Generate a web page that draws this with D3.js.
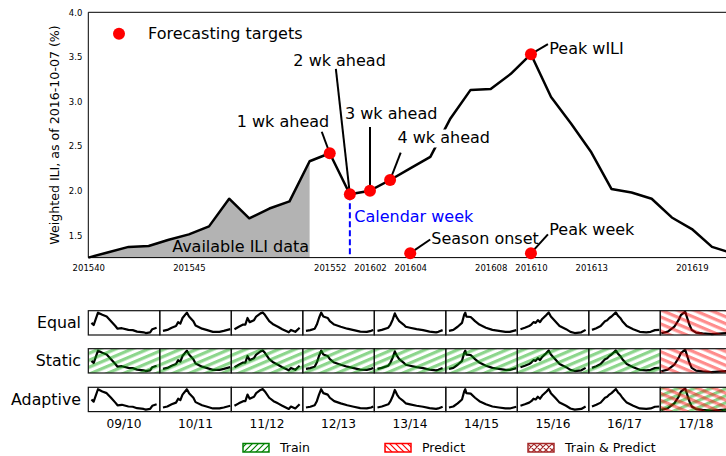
<!DOCTYPE html>
<html><head><meta charset="utf-8">
<script src="https://cdn.jsdelivr.net/npm/d3@7"></script>
<style>body{margin:0;background:#fff}svg{display:block;font-family:"DejaVu Sans",sans-serif}</style>
</head><body><svg id="c" width="726" height="456"></svg>
<script>
// ---------- data: top panel ----------
const wili = [1.25,1.31,1.37,1.38,1.45,1.51,1.60,1.91,1.69,1.80,1.88,2.33,2.42,1.96,2.00,2.12,2.25,2.38,2.81,3.13,3.14,3.31,3.53,3.05,2.75,2.43,2.02,1.98,1.91,1.70,1.57,1.37,1.30];
const tickWeeks = [0,5,12,14,16,20,22,25,30];
const tickLabels = ["201540","201545","201552","201602","201604","201608","201610","201613","201619"];
const yTicks = [1.5,2.0,2.5,3.0,3.5,4.0];
const availableEnd = 11;
const calendarWeek = 13;
const targetLabels = ["1 wk ahead","2 wk ahead","3 wk ahead","4 wk ahead","Peak wILI","Season onset","Peak week"];
const targetWeeks  = [12,13,14,15,22,16,22];
const targetValues = [2.42,1.96,2.00,2.12,3.53,1.30,1.30];

// ---------- data: bottom panel ----------
const seasons = ["09/10","10/11","11/12","12/13","13/14","14/15","15/16","16/17","17/18"];
const rowNames = ["Equal","Static","Adaptive"];
const s0910 = [[1,.50],[2,.41],[4,.92],[6,.83],[8,.76],[10,.57],[12,.37],[13,.26],[15,.28],[18,.21],[20,.20],[22,.14],[25,.11],[26,.08],[28,.11],[29,.24],[31,.30]];
const s1011 = [[1,.17],[3,.21],[5,.30],[7,.37],[8,.53],[9,.47],[10,.70],[12,.92],[13,.76],[15,.57],[16,.39],[19,.26],[21,.21],[24,.13],[27,.13],[29,.17],[32,.24]];
const s1112 = [[1,.24],[3,.34],[5,.43],[6,.43],[7,.70],[8,.53],[10,.61],[11,.76],[13,.89],[14,.93],[15,.83],[17,.57],[19,.43],[21,.34],[23,.24],[26,.11],[27,.21],[29,.13],[31,.30]];
const s1213 = [[1,.17],[3,.20],[5,.26],[6,.43],[7,.70],[8,.92],[9,.76],[11,.70],[12,.57],[14,.43],[17,.34],[20,.26],[23,.20],[26,.14],[29,.13],[31,.17],[32,.21]];
const s1314 = [[1,.17],[3,.21],[6,.30],[7,.43],[8,.63],[9,.89],[10,.70],[11,.57],[13,.43],[14,.34],[16,.30],[19,.24],[22,.20],[25,.14],[28,.11],[29,.13],[31,.20]];
const s1415 = [[1,.17],[3,.21],[5,.34],[7,.50],[8,.83],[8.5,.92],[9,.76],[11,.74],[13,.57],[15,.43],[18,.30],[21,.21],[24,.17],[27,.13],[29,.13],[32,.20]];
const s1516 = [[1,.24],[3,.30],[5,.37],[6,.43],[7,.53],[8,.50],[9,.61],[10,.53],[11,.66],[13,.83],[14,.93],[15,.76],[17,.57],[19,.37],[22,.24],[24,.13],[26,.08],[29,.11],[31,.21]];
const s1617 = [[1,.21],[3,.28],[5,.37],[7,.57],[8,.61],[9,.70],[10,.76],[12,.93],[13,.79],[14,.70],[15,.57],[17,.37],[20,.24],[23,.13],[26,.11],[28,.13],[30,.20],[32,.21]];
const s1718 = [[0,.07],[3,.14],[6,.34],[8,.62],[9,.82],[11,.96],[12,.68],[13,.41],[14,.21],[16,.10],[19,.07],[23,.04],[28,.07],[32,.09]];
const seasonCurves = [s0910,s1011,s1112,s1213,s1314,s1415,s1516,s1617,s1718];
// hatch role per row/season: T = train, P = predict, B = train & predict
const equalRoles    = ["","","","","","","","","P"];
const staticRoles   = ["T","T","T","T","T","T","T","T","P"];
const adaptiveRoles = ["","","","","","","","","B"];
const rowRoles = [equalRoles, staticRoles, adaptiveRoles];
const legendLabels = ["Train","Predict","Train & Predict"];

// ---------- drawing ----------
const svg = d3.select("#c");
const FONT = "DejaVu Sans";
const ANN = 16;
const defs = svg.append("defs");

const x = d3.scaleLinear().domain([0, 32]).range([88.3, 88.3 + 32 * 20.12]);
const y = d3.scaleLinear().domain([1.25, 4.0]).range([257.6, 12.3]);

// fill of available data
const avail = wili.slice(0, availableEnd + 1).map((v, i) => [i, v]);
svg.append("path")
  .attr("d", d3.area().x(d => x(d[0])).y0(y(1.25)).y1(d => y(d[1]))(avail))
  .attr("fill", "#b3b3b3");

// main line
svg.append("path")
  .attr("d", d3.line().x((d, i) => x(i)).y(d => y(d))(wili))
  .attr("fill", "none").attr("stroke", "#000").attr("stroke-width", 2.5).attr("stroke-linejoin", "round");

// calendar week dashed
svg.append("line")
  .attr("x1", x(calendarWeek)).attr("x2", x(calendarWeek))
  .attr("y1", y(wili[calendarWeek])).attr("y2", y(1.25))
  .attr("stroke", "#0000ff").attr("stroke-width", 2).attr("stroke-dasharray", "6,3");

// axes
const yAxis = svg.append("g").attr("transform", `translate(${x(0)},0)`)
  .call(d3.axisLeft(y).tickValues(yTicks).tickFormat(d3.format(".1f")).tickSize(0).tickPadding(6));
yAxis.select(".domain").remove();
yAxis.selectAll("text").attr("font-family", FONT).attr("font-size", 8.5).attr("fill", "#000");

const xAxis = svg.append("g").attr("transform", `translate(0,${y(1.25)})`)
  .call(d3.axisBottom(x).tickValues(tickWeeks).tickFormat((d, i) => tickLabels[i]).tickSize(0).tickPadding(7.5));
xAxis.select(".domain").remove();
xAxis.selectAll("text").attr("font-family", FONT).attr("font-size", 8.5).attr("fill", "#000");

// spines
svg.append("path")
  .attr("d", `M726,${y(4.0)}H${x(0)}V${y(1.25)}H726`)
  .attr("fill", "none").attr("stroke", "#000").attr("stroke-width", 1);

svg.append("text").attr("transform", `translate(59,135) rotate(-90)`)
  .attr("text-anchor", "middle").attr("font-family", FONT).attr("font-size", 12.6)
  .text("Weighted ILI, as of 2016-10-07 (%)");

// annotations (offsets relative to the target dot)
const ann = [
  {lx: -8, ly: -21.5, tx: -93, ty: -26.7},
  {lx: -14, ly: -125.3, tx: -56.5, ty: -128.3},
  {lx: 0, ly: -63.7, tx: -25, ty: -72.2},
  {lx: 10.6, ly: -27.3, tx: 7.4, ty: -36.5, box: true},
  {lx: 17, ly: -10.2, tx: 18.3, ty: -0.2},
  {lx: 20, ly: -13.6, tx: 21, ty: -8.8},
  {lx: 17, ly: -18.8, tx: 18.3, ty: -18.1}
];
targetLabels.forEach((lab, i) => {
  const cx = x(targetWeeks[i]), cy = y(targetValues[i]), a = ann[i];
  svg.append("line").attr("x1", cx).attr("y1", cy).attr("x2", cx + a.lx).attr("y2", cy + a.ly)
    .attr("stroke", "#000").attr("stroke-width", 2);
});
targetLabels.forEach((lab, i) => {
  const cx = x(targetWeeks[i]), cy = y(targetValues[i]), a = ann[i];
  const g = svg.append("g");
  const t = g.append("text").attr("x", cx + a.tx).attr("y", cy + a.ty)
    .attr("font-family", FONT).attr("font-size", ANN).text(lab);
  if (a.box) {
    const bb = t.node().getBBox();
    g.insert("rect", "text").attr("x", bb.x - 2).attr("y", bb.y + 1).attr("width", bb.width + 4).attr("height", bb.height - 1)
      .attr("fill", "#fff");
  }
});

svg.append("text").attr("x", x(calendarWeek) + 4.4).attr("y", 221.7)
  .attr("font-family", FONT).attr("font-size", ANN).attr("fill", "#0000ff").text("Calendar week");
svg.append("text").attr("x", x(availableEnd) - 0.5).attr("y", 252.3).attr("text-anchor", "end")
  .attr("font-family", FONT).attr("font-size", ANN).text("Available ILI data");

// dots
targetLabels.forEach((lab, i) => {
  svg.append("circle").attr("cx", x(targetWeeks[i])).attr("cy", y(targetValues[i])).attr("r", 6).attr("fill", "#ff0000");
});
// legend top
svg.append("circle").attr("cx", 119).attr("cy", 33.7).attr("r", 6).attr("fill", "#ff0000");
svg.append("text").attr("x", 148).attr("y", 38.8).attr("font-family", FONT).attr("font-size", ANN).text("Forecasting targets");

// ---------- bottom panel ----------
function stripePattern(id, color, angle) {
  const p = defs.append("pattern").attr("id", id).attr("patternUnits", "userSpaceOnUse")
    .attr("width", 20).attr("height", 6.4).attr("patternTransform", `rotate(${angle})`);
  p.append("rect").attr("x", 0).attr("y", 0).attr("width", 20).attr("height", 3.2).attr("fill", color);
}
stripePattern("hT", "rgba(0,165,0,0.45)", -23);
stripePattern("hP", "rgba(255,0,0,0.45)", 23);

const colW = 71.5, boxH = 24.3;
const rowTops = [310.7, 348.7, 387.3];
const colX = d3.scaleLinear().domain([0, seasons.length]).range([88.3, 88.3 + seasons.length * colW]);

rowNames.forEach((rn, r) => {
  const top = rowTops[r];
  svg.append("text").attr("x", 81).attr("y", top + boxH / 2 + 5.5).attr("text-anchor", "end")
    .attr("font-family", FONT).attr("font-size", 15.8).text(rn);
  seasons.forEach((s, c) => {
    const left = colX(c);
    const sx = d3.scaleLinear().domain([0, 32]).range([left + 1, left + colW - 1]);
    const sy = d3.scaleLinear().domain([0, 1]).range([top + boxH, top]);
    svg.append("path").attr("d", d3.line().x(d => sx(d[0])).y(d => sy(d[1]))(seasonCurves[c]))
      .attr("fill", "none").attr("stroke", "#000").attr("stroke-width", 2.2).attr("stroke-linejoin", "round");
    const role = rowRoles[r][c];
    if (role === "T" || role === "B")
      svg.append("rect").attr("x", left).attr("y", top).attr("width", colW).attr("height", boxH).attr("fill", "url(#hT)");
    if (role === "P" || role === "B")
      svg.append("rect").attr("x", left).attr("y", top).attr("width", colW).attr("height", boxH).attr("fill", "url(#hP)");
    svg.append("rect").attr("x", left).attr("y", top).attr("width", colW).attr("height", boxH)
      .attr("fill", "none").attr("stroke", "#111").attr("stroke-width", 1.2);
  });
});
seasons.forEach((s, c) => {
  svg.append("text").attr("x", colX(c) + colW / 2).attr("y", 428.3).attr("text-anchor", "middle")
    .attr("font-family", FONT).attr("font-size", 12.2).text(s);
});

// legend patches
function linePattern(id, color, paths) {
  const p = defs.append("pattern").attr("id", id).attr("patternUnits", "userSpaceOnUse").attr("width", 6).attr("height", 6);
  p.append("path").attr("d", paths).attr("stroke", color).attr("stroke-width", 1.2).attr("fill", "none");
}
linePattern("lT", "#008000", "M-1,1L1,-1M0,6L6,0M5,7L7,5");
linePattern("lP", "#ff0000", "M-1,5L1,7M0,0L6,6M5,-1L7,1");
linePattern("lB", "#a52a2a", "M-1,1L1,-1M0,6L6,0M5,7L7,5M-1,5L1,7M0,0L6,6M5,-1L7,1");
const legX = [243, 385, 528];
const legColors = ["#008000", "#ff0000", "#a52a2a"];
const legFills = ["url(#lT)", "url(#lP)", "url(#lB)"];
legendLabels.forEach((l, i) => {
  svg.append("rect").attr("x", legX[i]).attr("y", 443.5).attr("width", 26).attr("height", 8.5)
    .attr("fill", legFills[i]).attr("stroke", legColors[i]).attr("stroke-width", 1.5);
  svg.append("text").attr("x", legX[i] + 37).attr("y", 452).attr("font-family", FONT).attr("font-size", 12.5).text(l);
});
</script></body></html>
